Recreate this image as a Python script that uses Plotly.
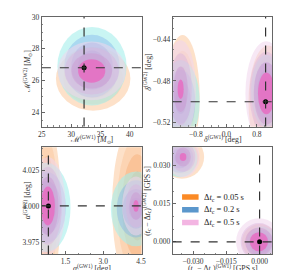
import plotly.graph_objects as go

# ---------------- data ----------------
series_names = ["Δ<i>t</i><sub>c</sub> = 0.05 s", "Δ<i>t</i><sub>c</sub> = 0.2 s", "Δ<i>t</i><sub>c</sub> = 0.5 s"]
legend_colors = ["#fb8a25", "#5b97cc", "#f3b5e2"]

# fill colours per series, outer level -> inner level
orange_levels = ["rgba(252,205,165,0.60)", "rgba(250,175,115,0.25)", "rgba(245,145,70,0.25)", "rgba(235,115,35,0.25)"]
blue_levels = ["rgba(165,238,235,0.60)", "rgba(125,175,235,0.40)", "rgba(105,135,215,0.40)", "rgba(85,105,200,0.40)"]
pink_levels = ["rgba(240,214,236,0.55)", "rgba(218,180,222,0.45)", "rgba(205,150,208,0.45)", "rgba(232,105,192,0.80)"]
level_scales = [1.0, 0.8, 0.6, 0.4]

# panel: truth values
truth_x = [32.2, 1.03, 0.82, 0.0]
truth_y = [26.8, -0.50, 4.000, 0.000]

# modes per panel per series:
# (centre x, centre y, half-width x, half-width y, peak strength) of the outer contour
tl_orange = [(33.75, 26.1, 6.35, 2.0, 1.0)]
tl_blue = [(33.55, 26.9, 5.9, 2.47, 1.0)]
tl_pink = [(33.5, 26.6, 5.8, 1.85, 1.0)]

tr_orange = [(-1.15, -0.496, 0.45, 0.06, 0.8), (1.1, -0.50, 0.52, 0.054, 1.0)]
tr_blue = [(-1.2, -0.50, 0.5, 0.04, 0.85), (1.05, -0.49, 0.4, 0.035, 1.0)]
tr_pink = [(-1.2, -0.488, 0.4, 0.047, 0.75), (1.05, -0.492, 0.55, 0.05, 1.0)]

bl_orange = [(0.76, 4.0, 0.55, 0.058, 1.0), (4.35, 4.0, 1.0, 0.06, 1.0)]
bl_blue = [(0.75, 3.999, 0.95, 0.031, 1.0), (4.3, 3.998, 1.0, 0.026, 0.85)]
bl_pink = [(0.8, 4.0, 0.7, 0.034, 1.0), (4.3, 4.0, 0.55, 0.0205, 0.75)]

br_orange = [(-0.035, 0.0335, 0.010, 0.0086, 0.85), (0.0, 0.0, 0.008, 0.007, 1.0)]
br_blue = [(-0.036, 0.033, 0.008, 0.0075, 0.85), (0.001, -0.0005, 0.007, 0.0065, 1.0)]
br_pink = [(-0.0345, 0.0335, 0.0075, 0.008, 0.75), (-0.0003, 0.0, 0.0103, 0.0093, 1.0)]

# axes
x_ranges = [[25, 42], [-1.41, 1.21], [0.56, 4.52], [-0.0392, 0.0058]]
y_ranges = [[23.1, 30], [-0.5238, -0.4186], [3.9663, 4.0409], [-0.005, 0.0374]]
x_ticks = [[25, 30, 35, 40], [-0.8, 0.0, 0.8], [1.5, 3.0, 4.5], [-0.030, -0.015, 0.000]]
y_ticks = [[24, 26, 28, 30], [-0.52, -0.48, -0.44], [3.975, 4.000, 4.025], [0.000, 0.015, 0.030]]
x_fmt = ["d", ".1f", ".1f", ".3f"]
y_fmt = ["d", ".2f", ".3f", ".3f"]
x_minor = [1, 0.2, 0.5, 0.005]
y_minor = [0.5, 0.01, 0.005, 0.005]
x_titles = ["ℳ<sup>(GW1)</sup> [<i>M</i><sub>⊙</sub>]", "<i>δ</i><sup>(GW1)</sup> [deg]",
            "<i>α</i><sup>(GW1)</sup> [deg]", "(<i>t</i><sub>c</sub> − Δ<i>t</i><sub>c</sub>)<sup>(GW1)</sup> [GPS s]"]
y_titles = ["ℳ<sup>(GW2)</sup> [<i>M</i><sub>⊙</sub>]", "<i>δ</i><sup>(GW2)</sup> [deg]",
            "<i>α</i><sup>(GW2)</sup> [deg]", "(<i>t</i><sub>c</sub> − Δ<i>t</i><sub>c</sub>)<sup>(GW2)</sup> [GPS s]"]

panels = [
    [tl_orange, tl_blue, tl_pink],
    [tr_orange, tr_blue, tr_pink],
    [bl_orange, bl_blue, bl_pink],
    [br_orange, br_blue, br_pink],
]
series_levels = [orange_levels, blue_levels, pink_levels]

# ---------------- layout geometry ----------------
W, H = 284, 270
px_left = [30.7, 165.3, 30.7, 165.3]
px_right = [133.3, 268, 133.3, 268]
px_top = [5, 5, 137.7, 137.7]
px_bottom = [116.7, 116.7, 247, 247]
xtitle_px_y = [129.5, 129.5, 261, 261]
ytitle_px_x = [16, 139, 15, 139]

FONT = "Liberation Serif"
fig = go.Figure()
layout = dict(
    width=W, height=H, margin=dict(l=0, r=0, t=0, b=0),
    paper_bgcolor="white", plot_bgcolor="white",
    font=dict(family=FONT, size=7.5, color="#333"),
    showlegend=False,
)
shapes = []
annotations = []
for i in range(4):
    xa = "xaxis" if i == 0 else f"xaxis{i+1}"
    ya = "yaxis" if i == 0 else f"yaxis{i+1}"
    xr = "x" if i == 0 else f"x{i+1}"
    yr = "y" if i == 0 else f"y{i+1}"
    common = dict(showgrid=False, zeroline=False, showline=True, mirror=True, linecolor="#666", linewidth=1,
                  ticks="inside", ticklen=3, tickcolor="#666", tickfont=dict(family=FONT, size=7.5, color="#333"))
    minor = dict(ticks="inside", ticklen=1.5, tickcolor="#888")
    layout[xa] = dict(common, domain=[px_left[i] / W, px_right[i] / W], range=x_ranges[i], anchor=yr,
                      tickvals=x_ticks[i], tickformat=x_fmt[i], minor=dict(minor, dtick=x_minor[i]))
    layout[ya] = dict(common, domain=[1 - px_bottom[i] / H, 1 - px_top[i] / H], range=y_ranges[i], anchor=xr,
                      tickvals=y_ticks[i], tickformat=y_fmt[i], minor=dict(minor, dtick=y_minor[i]))
    # axis titles
    annotations.append(dict(text=x_titles[i], xref="paper", yref="paper", showarrow=False,
                            x=(px_left[i] + px_right[i]) / 2 / W, y=1 - xtitle_px_y[i] / H,
                            xanchor="center", yanchor="middle", font=dict(family=FONT, size=7.8, color="#333")))
    annotations.append(dict(text=y_titles[i], xref="paper", yref="paper", showarrow=False, textangle=-90,
                            x=ytitle_px_x[i] / W, y=1 - (px_top[i] + px_bottom[i]) / 2 / H,
                            xanchor="center", yanchor="middle", font=dict(family=FONT, size=7.8, color="#333")))
    # filled contour levels (ellipses), orange then blue then pink
    for s in range(3):
        modes = panels[i][s]
        for li, sc in enumerate(level_scales):
            for (cx, cy, rx, ry, w) in modes:
                k = 1 - (1 - sc) / w
                if k <= 0.05:
                    continue
                shapes.append(dict(type="circle", xref=xr, yref=yr, layer="below",
                                   x0=cx - rx * k, x1=cx + rx * k, y0=cy - ry * k, y1=cy + ry * k,
                                   fillcolor=series_levels[s][li], line=dict(width=0)))
    # truth lines
    shapes.append(dict(type="line", xref=xr, yref=f"{yr} domain", x0=truth_x[i], x1=truth_x[i], y0=0, y1=1,
                       line=dict(color="#333", width=1.2, dash="dash"), layer="above"))
    shapes.append(dict(type="line", xref=f"{xr} domain", yref=yr, x0=0, x1=1, y0=truth_y[i], y1=truth_y[i],
                       line=dict(color="#333", width=1.2, dash="dash"), layer="above"))
    fig.add_trace(go.Scatter(x=[truth_x[i]], y=[truth_y[i]], xaxis=xr, yaxis=yr, mode="markers",
                             marker=dict(color="black", size=5), showlegend=False, cliponaxis=False))

# legend (inside lower-right panel)
leg_row_px = [188.5, 201.5, 214.5]
for s in range(3):
    yc = 1 - leg_row_px[s] / H
    shapes.append(dict(type="rect", xref="paper", yref="paper", x0=175 / W, x1=192 / W,
                       y0=yc - 2.8 / H, y1=yc + 2.8 / H, fillcolor=legend_colors[s], line=dict(width=0),
                       layer="above"))
    annotations.append(dict(text=series_names[s], xref="paper", yref="paper", showarrow=False,
                            x=195 / W, y=yc, xanchor="left", yanchor="middle",
                            font=dict(family=FONT, size=8.5, color="#222")))

layout["shapes"] = shapes
layout["annotations"] = annotations
fig.update_layout(**layout)
fig.write_html("out.html")
